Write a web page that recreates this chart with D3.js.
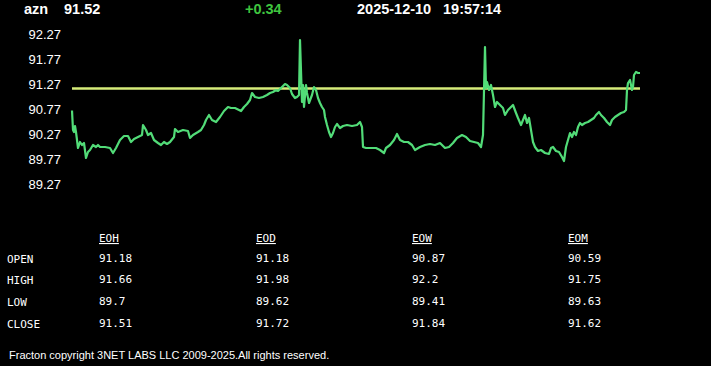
<!DOCTYPE html>
<html>
<head>
<meta charset="utf-8">
<script src="https://cdn.jsdelivr.net/npm/d3@7"></script>
<style>
    body { margin: 0; background: #000; }
    svg { display: block; }
</style>
</head>
<body>
<div id="canvas"></div>
<script>
//Quote header
const symbol = "azn";
const lastPrice = "91.52";
const change = "+0.34";
const quoteDate = "2025-12-10";
const quoteTime = "19:57:14";

//Intraday ticks (sample index) and prices
const tickIdx = [0, 1, 2, 3, 4, 6, 8, 10, 12, 14, 16, 18, 21, 24, 26, 28, 33, 38, 41, 44, 48, 52, 56, 59, 62, 66, 70, 71, 74, 76, 79, 82, 86, 89, 92, 95, 98, 102, 103, 106, 111, 116, 118, 121, 126, 129, 132, 134, 137, 140, 144, 148, 152, 156, 159, 163, 167, 169, 172, 175, 178, 180, 183, 187, 191, 195, 198, 201, 204, 206, 209, 211, 213, 215, 218, 220, 223, 225, 227, 228, 230, 231, 232, 234, 235, 237, 240, 242, 244, 246, 248, 250, 252, 253, 255, 257, 259, 261, 263, 265, 268, 271, 275, 280, 285, 288, 290, 291, 294, 299, 304, 308, 312, 314, 318, 322, 325, 328, 332, 336, 340, 343, 348, 353, 358, 363, 368, 373, 377, 381, 385, 390, 394, 398, 402, 406, 409, 411, 413, 414, 415, 417, 419, 421, 423, 425, 428, 431, 433, 436, 439, 441, 444, 446, 449, 451, 453, 455, 457, 459, 461, 463, 466, 469, 473, 477, 479, 481, 484, 487, 490, 492, 494, 496, 498, 500, 502, 504, 506, 508, 510, 513, 516, 519, 522, 524, 527, 529, 532, 535, 538, 540, 543, 546, 549, 552, 554, 555, 556, 558, 559, 560, 561, 562, 564, 566, 568];
const prices = [90.74, 90.35, 90.31, 90.43, 90.31, 89.99, 90.11, 90.05, 90.09, 89.79, 89.91, 89.95, 90.05, 90.01, 90.05, 90.01, 90.01, 89.99, 89.89, 89.99, 90.15, 90.23, 90.23, 90.11, 90.17, 90.21, 90.25, 90.45, 90.35, 90.25, 90.29, 90.15, 90.09, 90.05, 90.11, 90.07, 90.11, 90.21, 90.37, 90.31, 90.35, 90.33, 90.19, 90.25, 90.31, 90.35, 90.45, 90.55, 90.65, 90.55, 90.51, 90.61, 90.73, 90.81, 90.79, 90.79, 90.75, 90.73, 90.81, 90.87, 90.95, 91.09, 91.01, 90.99, 91.01, 91.05, 91.09, 91.11, 91.15, 91.13, 91.19, 91.23, 91.27, 91.25, 91.19, 91.07, 90.99, 91.01, 91.05, 92.15, 90.91, 91.25, 90.81, 91.25, 91.09, 90.89, 91.05, 91.21, 91.15, 90.99, 90.89, 90.81, 90.75, 90.61, 90.45, 90.31, 90.21, 90.29, 90.41, 90.47, 90.39, 90.43, 90.45, 90.43, 90.45, 90.51, 90.41, 90.01, 89.99, 89.99, 89.99, 89.95, 89.89, 89.99, 90.05, 90.15, 90.27, 90.15, 90.11, 90.11, 90.05, 89.95, 90.01, 90.05, 90.07, 90.05, 90.09, 89.99, 90.01, 90.09, 90.19, 90.25, 90.21, 90.13, 90.11, 90.09, 90.01, 90.25, 92.01, 91.19, 91.31, 91.15, 91.25, 91.05, 90.81, 90.91, 90.85, 90.79, 90.65, 90.75, 90.81, 90.85, 90.69, 90.59, 90.45, 90.55, 90.65, 90.49, 90.59, 90.35, 90.11, 90.01, 89.93, 89.95, 89.89, 89.87, 89.99, 90.01, 89.93, 89.91, 89.81, 89.73, 90.01, 90.15, 90.29, 90.21, 90.31, 90.25, 90.41, 90.49, 90.45, 90.49, 90.51, 90.55, 90.59, 90.65, 90.71, 90.65, 90.59, 90.51, 90.45, 90.55, 90.61, 90.65, 90.69, 90.71, 90.75, 91.15, 91.29, 91.35, 91.25, 91.15, 91.21, 91.45, 91.51, 91.49, 91.49];
const openPrice = 91.18;

//Y axis labels
const yTicks = [92.27, 91.77, 91.27, 90.77, 90.27, 89.77, 89.27];

//Summary table
const periods = ["EOH", "EOD", "EOW", "EOM"];
const rowNames = ["OPEN", "HIGH", "LOW", "CLOSE"];
const eoh = ["91.18", "91.66", "89.7", "91.51"];
const eod = ["91.18", "91.98", "89.62", "91.72"];
const eow = ["90.87", "92.2", "89.41", "91.84"];
const eom = ["90.59", "91.75", "89.63", "91.62"];
const tableCols = [eoh, eod, eow, eom];

const footer = "Fracton copyright 3NET LABS LLC 2009-2025.All rights reserved.";

const width = 711, height = 366;

const svg = d3.select('#canvas')
    .append('svg')
    .attr('width', width)
    .attr('height', height)
    .style('background', '#000');

//Header line
const header = svg.append('g')
    .style('font-family', 'Arial, "Liberation Sans", sans-serif')
    .style('font-weight', 'bold')
    .style('font-size', '14.5px')
    .attr('fill', '#fff');
header.append('text').attr('x', 24).attr('y', 14).text(symbol);
header.append('text').attr('x', 64).attr('y', 14).text(lastPrice);
header.append('text').attr('x', 245).attr('y', 14).attr('fill', '#3fc43f').text(change);
header.append('text').attr('x', 357).attr('y', 14).text(quoteDate);
header.append('text').attr('x', 443).attr('y', 14).text(quoteTime);

//Scales
const x = d3.scaleLinear().domain([0, 568]).range([72, 640]);
const y = d3.scaleLinear().domain([89.27, 92.27]).range([184, 34]);

//Y axis, labels only
const yAxis = svg.append('g')
    .attr('transform', 'translate(61,0)')
    .call(d3.axisLeft(y).tickValues(yTicks).tickSize(0).tickPadding(0).tickFormat(d3.format('.2f')));
yAxis.select('.domain').remove();
yAxis.selectAll('text')
    .attr('fill', '#fff')
    .style('font-family', 'Arial, "Liberation Sans", sans-serif')
    .style('font-size', '13px');

//Open reference line
svg.append('line')
    .attr('x1', x(0))
    .attr('x2', x(568))
    .attr('y1', y(openPrice))
    .attr('y2', y(openPrice))
    .attr('stroke', '#d6ec7a')
    .attr('stroke-width', 2.5);

//Price line
const line = d3.line()
    .x((d, i) => x(tickIdx[i]))
    .y(d => y(d));

svg.append('path')
    .datum(prices)
    .attr('d', line)
    .attr('fill', 'none')
    .attr('stroke', '#52dc78')
    .attr('stroke-width', 2.2)
    .attr('stroke-linejoin', 'round');

//Table
const colX = [99, 256, 412, 568];
const rowY = [263, 284, 306, 328];
const table = svg.append('g')
    .style('font-family', '"DejaVu Sans Mono", monospace')
    .style('font-size', '11px')
    .attr('fill', '#fff');

table.selectAll('text.head')
    .data(periods)
    .enter()
        .append('text')
        .attr('class', 'head')
        .attr('x', (d, i) => colX[i])
        .attr('y', 242)
        .style('text-decoration', 'underline')
        .text(d => d);

table.selectAll('text.row')
    .data(rowNames)
    .enter()
        .append('text')
        .attr('class', 'row')
        .attr('x', 7)
        .attr('y', (d, i) => rowY[i])
        .text(d => d);

tableCols.forEach((col, c) => {
    table.selectAll('text.c' + c)
        .data(col)
        .enter()
            .append('text')
            .attr('class', 'c' + c)
            .attr('x', colX[c])
            .attr('y', (d, i) => rowY[i] - 1)
            .text(d => d);
});

//Footer
svg.append('text')
    .attr('x', 9)
    .attr('y', 359)
    .attr('fill', '#fff')
    .style('font-family', 'Arial, "Liberation Sans", sans-serif')
    .style('font-size', '11px')
    .text(footer);
</script>
</body>
</html>
